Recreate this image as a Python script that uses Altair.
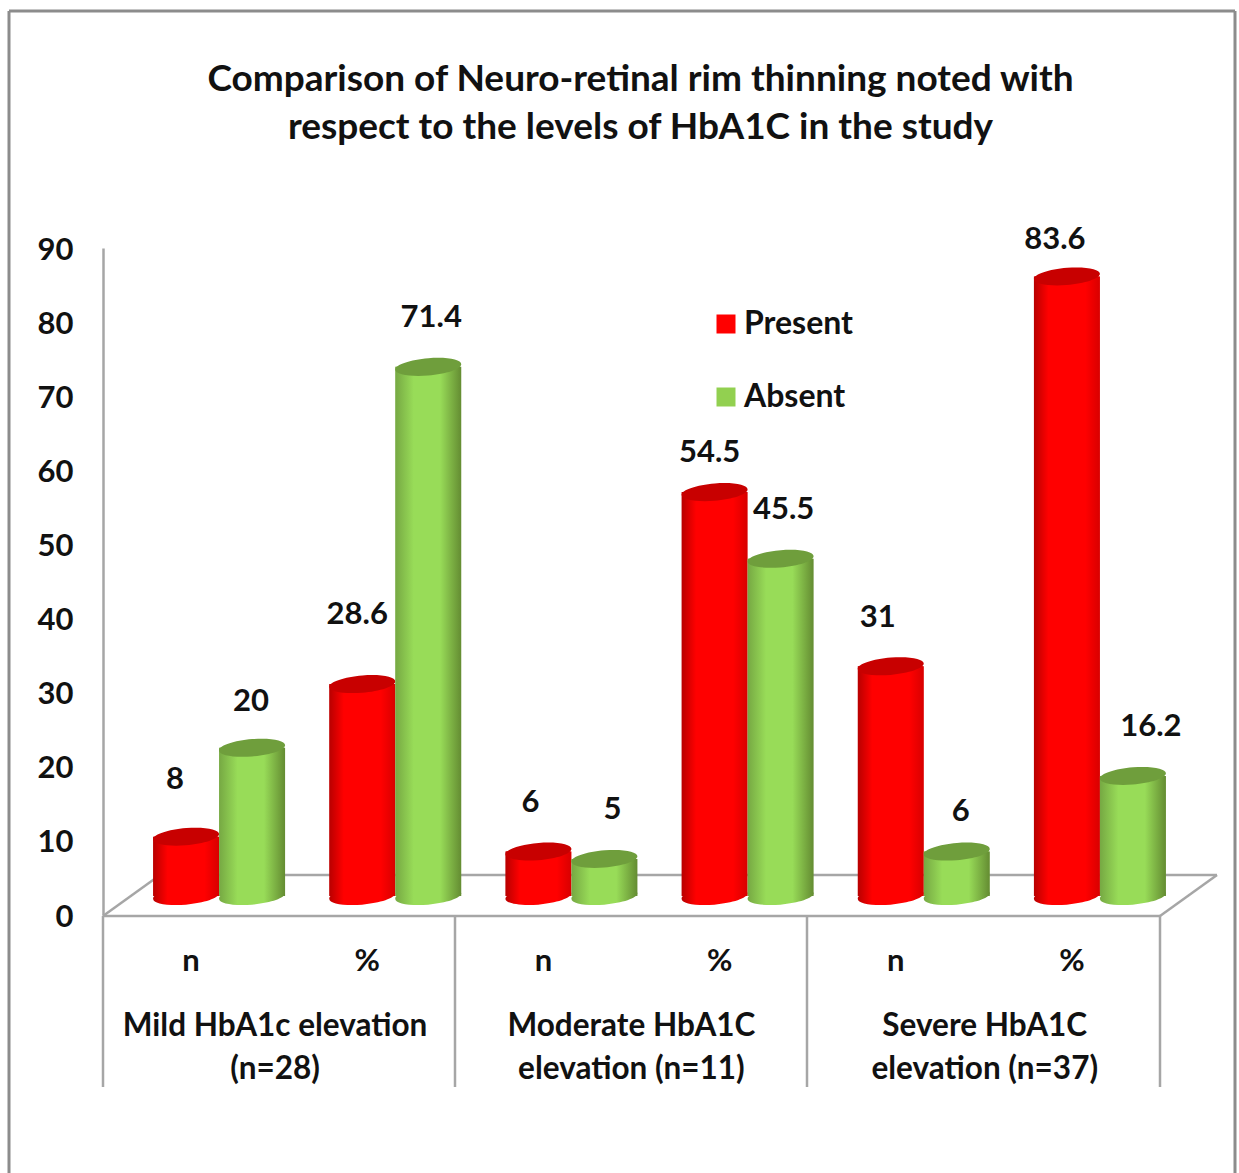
import altair as alt
import pandas as pd

# Chart values
groups = ["Mild", "Moderate", "Severe"]
measures = ["n", "%"]
categories = [f"{g}|{m}" for g in groups for m in measures]
present = [8, 28.6, 6, 54.5, 31, 83.6]
absent = [20, 71.4, 5, 45.5, 6, 16.2]
value_labels_present = ["8", "28.6", "6", "54.5", "31", "83.6"]
value_labels_absent = ["20", "71.4", "5", "45.5", "6", "16.2"]
group_labels = [
    "Mild HbA1c elevation\n(n=28)",
    "Moderate HbA1C\nelevation (n=11)",
    "Severe HbA1C\nelevation (n=37)",
]

FONT = "Lato"
INK = "#111111"
LINE = "#a6a6a6"
FRAME = "#8c8c8c"
W, H = 1057, 667
LEFT, TOP = 103, 248
DEPTH_X, DEPTH_Y = 28, -19
BAR_W = 66
TILTED_DISC = "M-1,0.08 A1,0.26 -5 1 1 1,-0.08 A1,0.26 -5 1 1 -1,0.08 Z"

rows = []
for cat, p, a, lp, la in zip(categories, present, absent, value_labels_present, value_labels_absent):
    rows.append({"cat": cat, "series": "Present", "value": p, "label": lp})
    rows.append({"cat": cat, "series": "Absent", "value": a, "label": la})
df = pd.DataFrame(rows)

# The cylinders stand on the floor, set back from the front edge, so the band
# scale is shifted by the depth and the axis labels are shifted back to the front.
gap = 1 - 2 * BAR_W / (W / 6)
x_scale = alt.Scale(domain=categories, range=[DEPTH_X, W + DEPTH_X], paddingInner=gap, paddingOuter=gap / 2)
y_scale = alt.Scale(domain=[0, 90], nice=False)
off_scale = alt.Scale(domain=["Present", "Absent"])

X = alt.X(
    "cat:N",
    scale=x_scale,
    sort=categories,
    axis=alt.Axis(
        title=None, domain=False, ticks=False, labelAngle=0, labelPadding=31,
        labelOffset=-DEPTH_X, labelExpr="split(datum.label, '|')[1]",
        labelFont=FONT, labelFontSize=31, labelFontWeight="bold", labelColor=INK,
    ),
)
Y = alt.Y(
    "value:Q",
    scale=y_scale,
    axis=alt.Axis(
        title=None, values=list(range(0, 100, 10)), grid=False, ticks=False,
        domain=True, domainColor=LINE, domainWidth=2.5, labelPadding=30, labelOffset=2,
        labelFont=FONT, labelFontSize=31, labelFontWeight="bold", labelColor=INK,
    ),
)
XO = alt.XOffset("series:N", scale=off_scale, sort=["Present", "Absent"])


def line(x1, y1, x2, y2, color=LINE, width=2.5):
    # Straight furniture line given in canvas pixels
    return alt.Chart(df.head(1)).mark_rule(color=color, strokeWidth=width).encode(
        x=alt.value(x1 - LEFT), x2=alt.value(x2 - LEFT),
        y=alt.value(y1 - TOP), y2=alt.value(y2 - TOP),
    )


def gradient(stops):
    return alt.LinearGradient(
        gradient="linear", x1=0, x2=1, y1=0, y2=0,
        stops=[alt.GradientStop(offset=o, color=c) for o, c in stops],
    )


STYLES = {
    "Present": dict(
        body=gradient([(0, "#b80000"), (0.22, "#ff0000"), (0.78, "#ff0000"), (1, "#d80000")]),
        top="#c80000",
    ),
    "Absent": dict(
        body=gradient([(0, "#76a843"), (0.28, "#98dc58"), (0.68, "#98dc58"), (1, "#648c32")]),
        top="#6f9e3c",
    ),
}

base = alt.Chart(df)
layers = [
    line(9, 11, 9, 1173, FRAME, 3),
    line(9, 11, 1235, 11, FRAME, 3),
    line(1235, 11, 1235, 1173, FRAME, 3),
    line(103, 916, 160, 875),
    line(160, 875, 1217, 875),
    line(1217, 875, 1160, 916),
    line(103, 916, 1160, 916),
    line(103, 916, 103, 1087),
    line(455, 916, 455, 1087),
    line(807, 916, 807, 1087),
    line(1160, 916, 1160, 1087),
]

# Solid underlay supplies the colour legend; shaded cylinders are drawn over it
layers.append(
    base.mark_bar(yOffset=DEPTH_Y, y2Offset=DEPTH_Y, width=BAR_W - 1).encode(
        x=X, xOffset=XO, y=Y, y2=alt.Y2(datum=0),
        color=alt.Color(
            "series:N",
            scale=alt.Scale(domain=["Present", "Absent"], range=["#ff0000", "#92d050"]),
            legend=alt.Legend(
                title=None, orient="none", legendX=607, legendY=60, padding=0,
                symbolType="square", symbolSize=361, symbolStrokeWidth=0,
                labelFont=FONT, labelFontSize=32, labelFontWeight="bold", labelColor=INK,
                labelOffset=2, rowPadding=41, labelLimit=300,
            ),
        ),
    )
)

for series, style in STYLES.items():
    d = alt.Chart(df[df.series == series])
    layers.append(
        d.mark_point(
            shape=TILTED_DISC, size=BAR_W ** 2, filled=True, opacity=1, strokeWidth=0,
            fill=style["body"], yOffset=DEPTH_Y,
        ).encode(x=X, xOffset=XO, y=alt.Y(datum=0, scale=y_scale))
    )
    layers.append(
        d.mark_bar(
            fill=style["body"], yOffset=DEPTH_Y, y2Offset=DEPTH_Y, width=BAR_W,
        ).encode(x=X, xOffset=XO, y=Y, y2=alt.Y2(datum=0))
    )
    layers.append(
        d.mark_point(
            shape=TILTED_DISC, size=BAR_W ** 2, filled=True, opacity=1, strokeWidth=0,
            fill=style["top"], yOffset=DEPTH_Y,
        ).encode(x=X, xOffset=XO, y=Y)
    )

# Hand-placed data label offsets, relative to the top of each cylinder
NUDGES = {
    ("Mild|n", "Present"): (-11, -57), ("Mild|n", "Absent"): (-1, -46),
    ("Mild|%", "Present"): (-5, -69), ("Mild|%", "Absent"): (3, -49),
    ("Moderate|n", "Present"): (-8, -49), ("Moderate|n", "Absent"): (8, -49),
    ("Moderate|%", "Present"): (-5, -39), ("Moderate|%", "Absent"): (3, -49),
    ("Severe|n", "Present"): (-13, -48), ("Severe|n", "Absent"): (4, -40),
    ("Severe|%", "Present"): (-12, -36), ("Severe|%", "Absent"): (18, -49),
}
for (cat, series), (dx, dy) in NUDGES.items():
    layers.append(
        alt.Chart(df[(df.cat == cat) & (df.series == series)])
        .mark_text(
            font=FONT, fontSize=31, fontWeight="bold", color=INK, baseline="middle",
            yOffset=DEPTH_Y, dx=dx, dy=dy,
        )
        .encode(x=X, xOffset=XO, y=Y, text="label:N")
    )

# Group captions centred under each n / % pair
for cat, text, dx in zip(categories[::2], group_labels, (56, 60, 61)):
    layers.append(
        alt.Chart(pd.DataFrame({"cat": [cat], "caption": [text]}))
        .mark_text(
            font=FONT, fontSize=31.5, fontWeight="bold", color=INK,
            lineBreak="\n", lineHeight=43, baseline="middle", dx=dx,
        )
        .encode(x=alt.X("cat:N", scale=x_scale, sort=categories), y=alt.value(1027 - TOP), text="caption:N")
    )

chart = (
    alt.layer(*layers)
    .properties(
        width=W,
        height=H,
        autosize=alt.AutoSizeParams(type="none"),
        padding={"left": LEFT, "top": TOP, "right": 1239 - LEFT - W, "bottom": 1173 - TOP - H},
        background="white",
        title=alt.TitleParams(
            text=[
                "Comparison of Neuro-retinal rim thinning noted with",
                "respect to the levels of HbA1C in the study",
            ],
            font=FONT, fontSize=37, fontWeight="bold", color=INK,
            anchor="middle", frame="group", lineHeight=48, dx=9, dy=147, offset=10,
        ),
    )
    .configure_view(stroke=None)
)

chart.save("out.html", embed_options={"renderer": "svg", "actions": False})
